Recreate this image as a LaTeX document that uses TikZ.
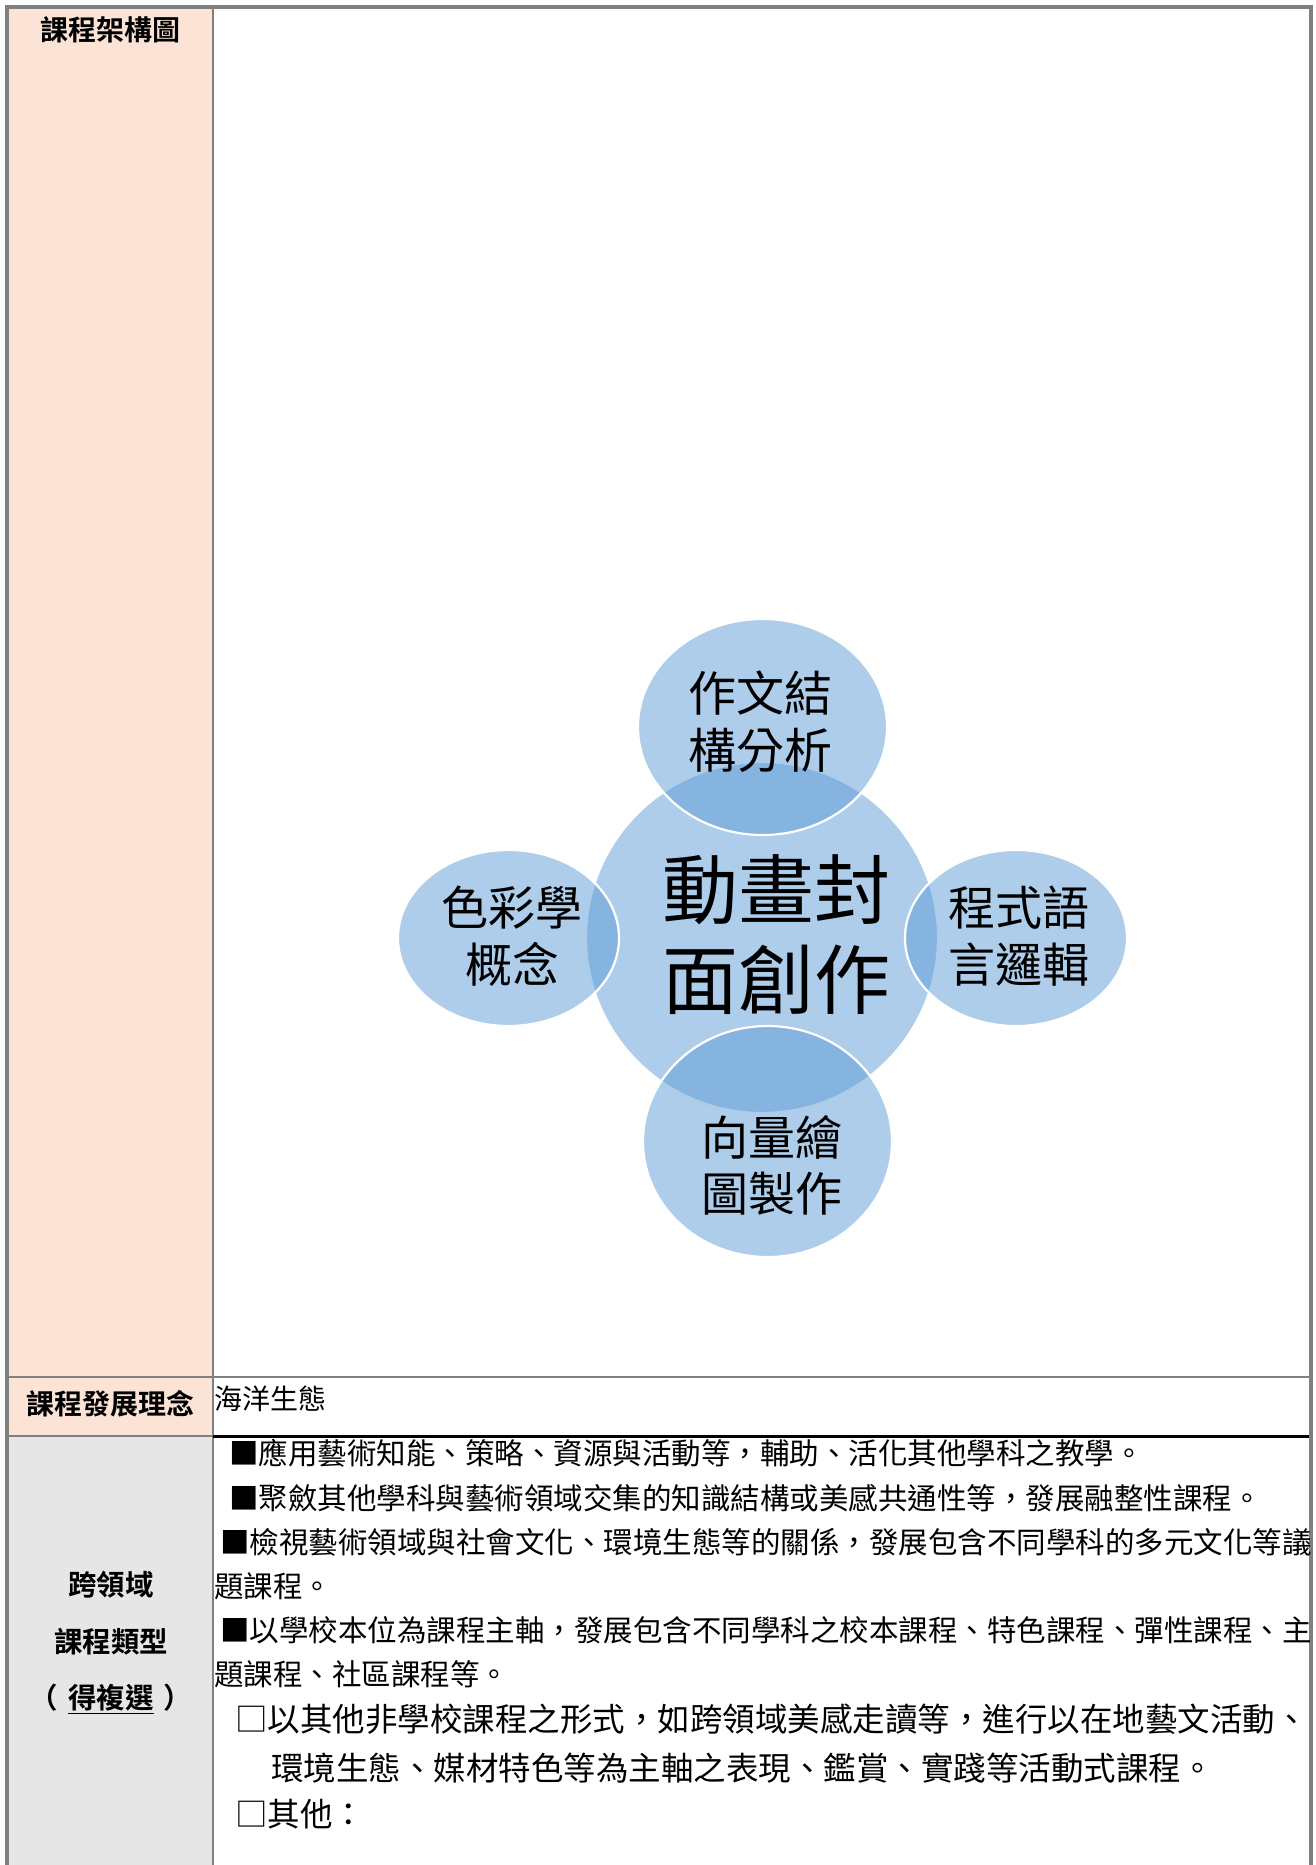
\documentclass[tikz,border=0pt]{standalone}
\usepackage{fontspec}
\setmainfont{Noto Sans CJK TC}[BoldFont={Noto Sans CJK TC Bold}]
\definecolor{peach}{HTML}{FBE4D5}
\definecolor{graycell}{HTML}{E7E6E6}
\definecolor{rulegray}{HTML}{808080}
\definecolor{accentblue}{HTML}{5B9BD5}
\tikzset{
  outerrule/.style={draw=rulegray, line width=4pt},
  innerrule/.style={draw=rulegray, line width=2.7pt},
  blackrule/.style={draw=black, line width=3pt},
  bubble/.style={fill=accentblue, fill opacity=0.5, draw=white, line width=2.2pt},
  ctext/.style={align=center, inner sep=0pt, text=black},
  hdr/.style={inner sep=0pt, font=\bfseries\fontsize{28}{30}\selectfont},
  rowtext/.style={inner sep=0pt, anchor=base west, font=\fontsize{29.5}{32}\selectfont},
  rowbig/.style={inner sep=0pt, anchor=base west, font=\fontsize{32.5}{35}\selectfont},
}
\begin{document}
\begin{tikzpicture}[x=1pt,y=-1pt]
\useasboundingbox (0,0) rectangle (1315,1865);
% cell fills
\fill[peach] (7,7) rectangle (213,1436);
\fill[graycell] (7,1436) rectangle (213,1865);
% rules
\draw[innerrule] (213,7) -- (213,1865);
\draw[innerrule] (7,1377) -- (1311,1377);
\draw[innerrule] (7,1436) -- (213,1436);
\draw[blackrule] (213,1436) -- (1311,1436);
\draw[outerrule] (7,1865) -- (7,7) -- (1311,7) -- (1311,1865);

% diagram
\path[bubble] (762,937.5) ellipse [x radius=176pt, y radius=175.5pt];
\path[bubble] (762.5,727) ellipse [x radius=124.5pt, y radius=108pt];
\path[bubble] (508.5,938) ellipse [x radius=110.5pt, y radius=88pt];
\path[bubble] (1016,938) ellipse [x radius=111pt, y radius=88pt];
\path[bubble] (767.5,1141.5) ellipse [x radius=124.5pt, y radius=115.5pt];

\node[ctext, font=\fontsize{76}{90}\selectfont] (center) at (776,935) {動畫封\\面創作};
\node[ctext, font=\fontsize{48}{57}\selectfont] (top) at (760,721.5) {作文結\\構分析};
\node[ctext, font=\fontsize{47}{57}\selectfont] (left) at (512,936.5) {色彩學\\概念};
\node[ctext, font=\fontsize{47}{57}\selectfont] (right) at (1019,936.5) {程式語\\言邏輯};
\node[ctext, font=\fontsize{47}{56}\selectfont] (bottom) at (772,1165) {向量繪\\圖製作};

% table texts
\node[hdr] (h1) at (110,30) {課程架構圖};
\node[hdr] (h2) at (110,1404) {課程發展理念};
\node[inner sep=0pt, anchor=base west, font=\fontsize{28}{30}\selectfont] (idea) at (214,1409.6) {海洋生態};

\node[hdr, font=\bfseries\fontsize{28.5}{30}\selectfont] (l1) at (111,1585) {跨領域};
\node[hdr, font=\bfseries\fontsize{28.5}{30}\selectfont] (l2) at (111,1642) {課程類型};
\node[hdr, font=\bfseries\fontsize{28.5}{30}\selectfont] (l3) at (111,1699) {（\hspace{0.35em}\underline{得複選}\hspace{0.35em}）};

\node[rowtext] (r1) at (229,1464.2) {■應用藝術知能、策略、資源與活動等，輔助、活化其他學科之教學。};
\node[rowtext] (r2) at (229,1509.2) {■聚斂其他學科與藝術領域交集的知識結構或美感共通性等，發展融整性課程。};
\node[rowtext] (r3) at (220,1553.2) {■檢視藝術領域與社會文化、環境生態等的關係，發展包含不同學科的多元文化等議};
\node[rowtext] (r4) at (214,1597.2) {題課程。};
\node[rowtext] (r5) at (220,1641.2) {■以學校本位為課程主軸，發展包含不同學科之校本課程、特色課程、彈性課程、主};
\node[rowtext] (r6) at (214,1685.2) {題課程、社區課程等。};
\node[rowbig] (r7) at (235,1731.4) {□以其他非學校課程之形式，如跨領域美感走讀等，進行以在地藝文活動、};
\node[rowbig] (r8) at (271,1780.4) {環境生態、媒材特色等為主軸之表現、鑑賞、實踐等活動式課程。};
\node[rowbig] (r9) at (235,1826.4) {□其他：};
\end{tikzpicture}
\end{document}
